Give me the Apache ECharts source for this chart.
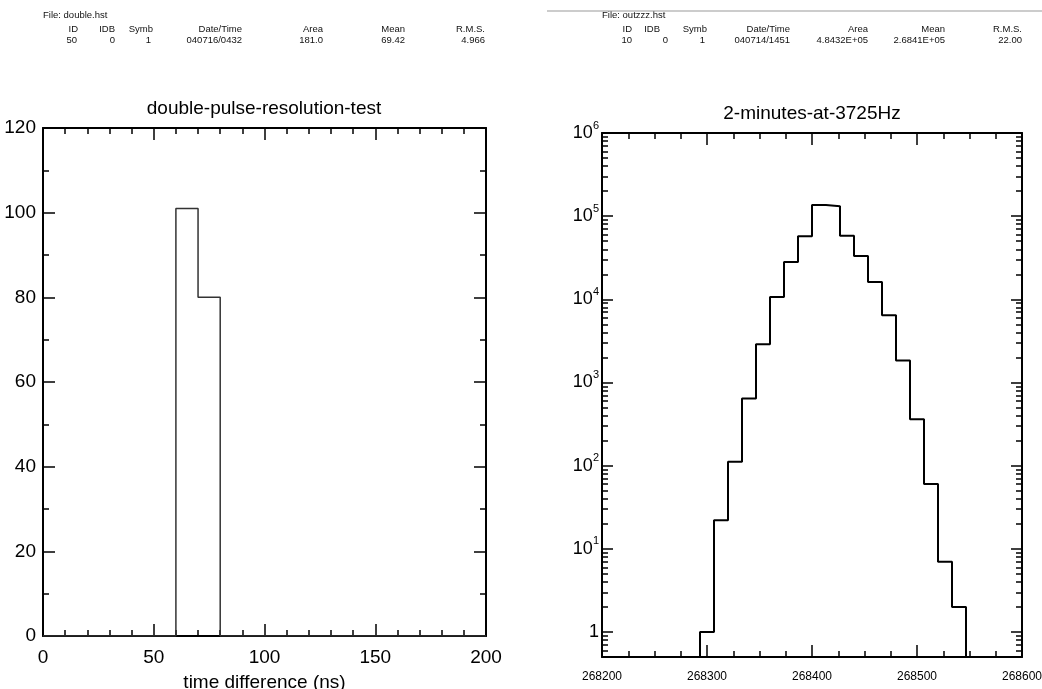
<!DOCTYPE html>
<html>
<head>
<meta charset="utf-8">
<script src="https://cdn.jsdelivr.net/npm/echarts@6/dist/echarts.min.js"></script>
<style>
html, body { margin: 0; padding: 0; background: #fff; }
#main { width: 1042px; height: 689px; }
</style>
</head>
<body>
<div id="main"></div>
<script>
// ---- left histogram: double-pulse-resolution-test ----
var leftBinStart = 0;
var leftBinWidth = 10;
var leftCounts = [0, 0, 0, 0, 0, 0, 101, 80, 0, 0, 0, 0, 0, 0, 0, 0, 0, 0, 0, 0];

// ---- right histogram: 2-minutes-at-3725Hz (30 bins on 268200..268600, filled bins only) ----
var rightBinStart = 268200;
var rightBinWidth = 400 / 30;
var rightFirstBin = 7;
var rightCounts = [1, 22, 111, 640, 2880, 10660, 28100, 57200, 136000, 132000,
                   58300, 33100, 16100, 6420, 1833, 361, 60, 7, 2];

// log axis labels (decades)
var rightYMajor = [1, 10, 100, 1000, 10000, 100000, 1000000];

// header blocks
var headerCols = ['ID', 'IDB', 'Symb', 'Date/Time', 'Area', 'Mean', 'R.M.S.'];
var leftHeaderFile = 'File: double.hst';
var leftHeaderVals = ['50', '0', '1', '040716/0432', '181.0', '69.42', '4.966'];
var rightHeaderFile = 'File: outzzz.hst';
var rightHeaderVals = ['10', '0', '1', '040714/1451', '4.8432E+05', '2.6841E+05', '22.00'];

var leftTitle = 'double-pulse-resolution-test';
var rightTitle = '2-minutes-at-3725Hz';
var leftXName = 'time difference (ns)';

var FONT = '"Liberation Sans", Arial, Helvetica, sans-serif';

var myChart = echarts.init(document.getElementById('main'));

// step outline of left histogram
var leftLine = [];
leftCounts.forEach(function (c, i) {
    leftLine.push([leftBinStart + i * leftBinWidth, c]);
});
leftLine.push([leftBinStart + leftCounts.length * leftBinWidth, leftCounts[leftCounts.length - 1]]);

// step outline of right histogram, dropping to the axis floor at both ends
var yFloor = 0.5;
var rightLine = [];
rightLine.push([rightBinStart + rightFirstBin * rightBinWidth, yFloor]);
rightCounts.forEach(function (c, i) {
    rightLine.push([rightBinStart + (rightFirstBin + i) * rightBinWidth, c]);
});
rightLine.push([rightBinStart + (rightFirstBin + rightCounts.length) * rightBinWidth, yFloor]);

// minor ticks of the log axis
var rightYMinor = [0.6, 0.7, 0.8, 0.9];
rightYMajor.forEach(function (d) {
    if (d >= 1000000) return;
    for (var k = 2; k <= 9; k++) rightYMinor.push(d * k);
});

var axisBlack = { onZero: false, lineStyle: { color: '#000', width: 2 } };

function xAxisBox(grid, pos, min, max, interval, split, labelSize, showLabel, name) {
    return {
        type: 'value', gridIndex: grid, position: pos,
        min: min, max: max, interval: interval,
        axisLine: axisBlack,
        axisTick: { inside: true, length: 12, lineStyle: { color: '#000', width: 1.5 } },
        minorTick: { show: true, splitNumber: split, length: 6, lineStyle: { color: '#000', width: 1.5 } },
        splitLine: { show: false },
        axisLabel: {
            show: showLabel, color: '#000', fontSize: labelSize, fontFamily: FONT,
            margin: labelSize > 15 ? 12 : 14,
            formatter: function (v) { return String(v); }
        },
        name: name || '',
        nameLocation: 'middle',
        nameGap: 37,
        nameTextStyle: { color: '#000', fontSize: 19, fontFamily: FONT }
    };
}

function leftYAxis(pos, showLabel) {
    return {
        type: 'value', gridIndex: 0, position: pos,
        min: 0, max: 120, interval: 20,
        axisLine: axisBlack,
        axisTick: { inside: true, length: 12, lineStyle: { color: '#000', width: 1.5 } },
        minorTick: { show: true, splitNumber: 2, length: 6, lineStyle: { color: '#000', width: 1.5 } },
        splitLine: { show: false },
        axisLabel: { show: showLabel, color: '#000', fontSize: 19, fontFamily: FONT, margin: 7 }
    };
}

function logYAxis(pos, major, showLabel) {
    return {
        type: 'log', gridIndex: 1, position: pos,
        min: yFloor, max: 1000000,
        axisLine: major ? axisBlack : { show: false, onZero: false },
        axisTick: {
            inside: true, length: major ? 11 : 6,
            customValues: major ? rightYMajor : rightYMinor,
            lineStyle: { color: '#000', width: 1.5 }
        },
        splitLine: { show: false },
        axisLabel: {
            show: showLabel,
            customValues: rightYMajor,
            margin: 3,
            color: '#000',
            fontFamily: FONT,
            formatter: function (v) {
                var e = Math.round(Math.log10(v));
                if (e === 0) return '{b|1}';
                return '{b|10}{s|' + e + '}';
            },
            rich: {
                b: { fontSize: 18, fontFamily: FONT, color: '#000', lineHeight: 26 },
                s: { fontSize: 11, fontFamily: FONT, color: '#000', verticalAlign: 'top', lineHeight: 10 }
            }
        }
    };
}

var graphics = [];
function headerBlock(fileText, vals, fileX, colEnds, valEnds) {
    graphics.push({ type: 'text', x: fileX, y: 15, style: { text: fileText, font: '9.5px ' + FONT, fill: '#111', textVerticalAlign: 'middle' } });
    headerCols.forEach(function (t, i) {
        graphics.push({ type: 'text', x: colEnds[i], y: 29, style: { text: t, font: '9.5px ' + FONT, fill: '#111', textAlign: 'right', textVerticalAlign: 'middle' } });
        graphics.push({ type: 'text', x: valEnds[i], y: 40, style: { text: vals[i], font: '9.5px ' + FONT, fill: '#111', textAlign: 'right', textVerticalAlign: 'middle' } });
    });
}
headerBlock(leftHeaderFile, leftHeaderVals, 43,
    [78, 115, 153, 242, 323, 405, 485], [77, 115, 151, 242, 323, 405, 485]);
headerBlock(rightHeaderFile, rightHeaderVals, 602,
    [632, 660, 707, 790, 868, 945, 1022], [632, 668, 705, 790, 868, 945, 1022]);
graphics.push({ type: 'line', shape: { x1: 547, y1: 11, x2: 1042, y2: 11 }, style: { stroke: '#999', lineWidth: 1 } });
graphics.push({ type: 'text', x: 264, y: 109, style: { text: leftTitle, font: '19px ' + FONT, fill: '#000', textAlign: 'center', textVerticalAlign: 'middle' } });
graphics.push({ type: 'text', x: 812, y: 114, style: { text: rightTitle, font: '19px ' + FONT, fill: '#000', textAlign: 'center', textVerticalAlign: 'middle' } });

var option = {
    animation: false,
    backgroundColor: '#fff',
    grid: [
        { left: 43, right: 556, top: 128, bottom: 53, outerBoundsMode: 'none' },
        { left: 602, right: 20, top: 133, bottom: 32, outerBoundsMode: 'none' }
    ],
    xAxis: [
        xAxisBox(0, 'bottom', 0, 200, 50, 5, 19, true, leftXName),
        xAxisBox(0, 'top', 0, 200, 50, 5, 19, false),
        xAxisBox(1, 'bottom', 268200, 268600, 100, 4, 12, true),
        xAxisBox(1, 'top', 268200, 268600, 100, 4, 12, false)
    ],
    yAxis: [
        leftYAxis('left', true),
        leftYAxis('right', false),
        logYAxis('left', true, true),
        logYAxis('left', false, false),
        logYAxis('right', true, false),
        logYAxis('right', false, false)
    ],
    graphic: graphics,
    series: [{
        name: leftTitle,
        type: 'line',
        xAxisIndex: 0, yAxisIndex: 0,
        step: 'end',
        showSymbol: false,
        lineStyle: { color: '#333', width: 1.5 },
        data: leftLine
    }, {
        name: rightTitle,
        type: 'line',
        xAxisIndex: 2, yAxisIndex: 2,
        step: 'end',
        showSymbol: false,
        clip: true,
        lineStyle: { color: '#000', width: 2 },
        data: rightLine
    }]
};
myChart.setOption(option);
</script>
</body>
</html>
